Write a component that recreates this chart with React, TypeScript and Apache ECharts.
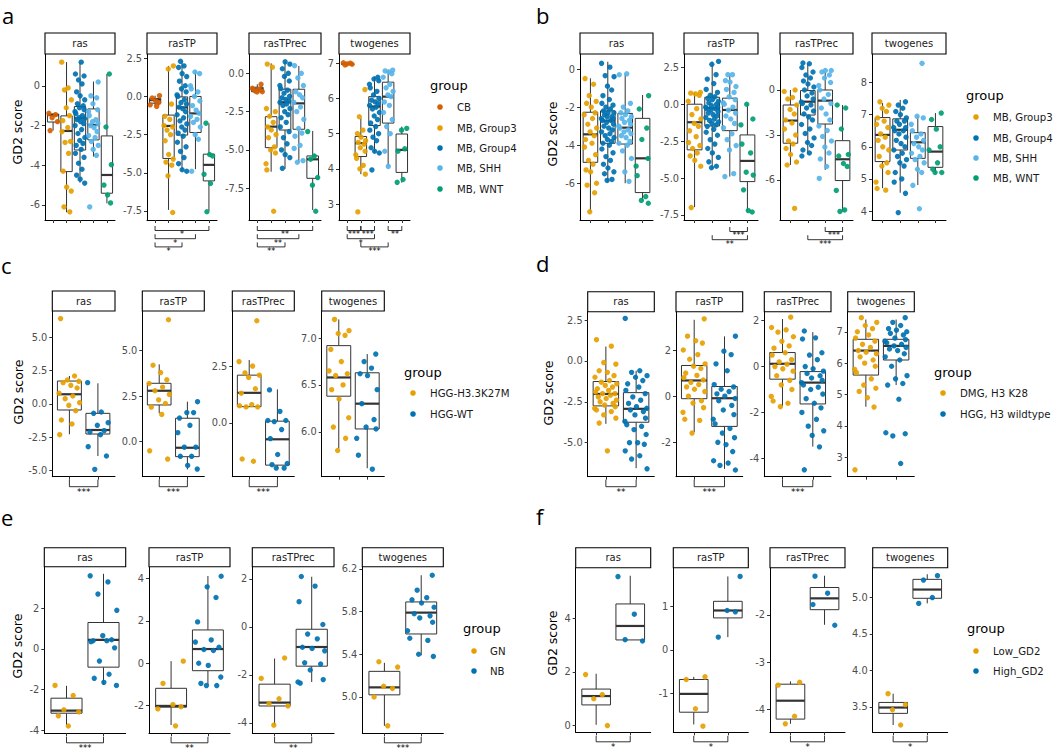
import React, { useEffect, useRef } from "react";
import * as echarts from "echarts";

const FONT = "DejaVu Sans, sans-serif";
const FACET_NAMES = ["ras", "rasTP", "rasTPrec", "twogenes"];

// ---------- panel a ----------
const aGroups = ["CB", "MB, Group3", "MB, Group4", "MB, SHH", "MB, WNT"];
const aColors = ["#D55E00", "#E69F00", "#0072B2", "#56B4E9", "#009E73"];
const aRasPts = [
  [-1.38, -1.45, -1.6, -1.8, -2.25],
  [1.2, -0.1, -0.2, -0.7, -1.1, -1.5, -1.75, -2.1, -2.3, -2.8, -2.85, -3.4, -4.3, -5.1, -5.3, -6.1, -6.35],
  [1.2, 0.6, 0.5, 0.3, 0.1, -0.3, -0.5, -0.7, -0.9, -1.0, -1.1, -1.2, -1.3, -1.4, -1.5, -1.6, -1.65, -1.7, -1.8, -1.9, -2.0, -2.2, -2.4, -2.6, -2.75, -2.9, -3.0, -3.2, -3.4, -3.6, -3.9, -4.2, -4.5, -4.7, -4.9],
  [0.2, -0.5, -0.6, -0.9, -1.2, -1.3, -1.5, -1.7, -1.8, -1.9, -2.0, -2.1, -2.3, -2.5, -2.6, -2.8, -3.0, -3.2, -3.5, -6.1],
  [0.6, -2.07, -3.97, -5.0, -5.5, -5.9],
];
const aRasBox = [[-2.25, -1.82, -1.47, -1.42, -1.38], [-6.37, -4.32, -2.27, -1.51, 1.2], [-4.88, -3.23, -1.63, -1.04, 1.2], [-3.56, -2.72, -1.97, -1.16, 0.22], [-5.92, -5.41, -4.49, -2.52, 0.6]];
const aRasTicks = ["0", "-2", "-4", "-6"];
const aRasLim = [-6.76, 1.61];

const aRasTPPts = [
  [0.05, -0.1, -0.3, -0.4, -0.55, -0.65],
  [2.0, 1.8, -0.5, -1.3, -1.5, -1.9, -2.0, -2.2, -2.5, -2.9, -3.8, -4.1, -4.3, -4.5, -5.2, -7.6],
  [2.3, 2.0, 1.9, 1.5, 1.3, 1.0, 0.7, 0.5, 0.3, 0.1, 0.0, -0.2, -0.4, -0.5, -0.7, -0.8, -1.0, -1.2, -1.4, -1.6, -1.8, -2.0, -2.2, -2.4, -2.6, -3.0, -3.3, -3.6, -4.0, -4.4, -4.8, -4.9],
  [1.6, 1.5, 0.7, 0.5, 0.3, 0.0, -0.3, -0.6, -0.9, -1.1, -1.3, -1.5, -1.7, -2.0, -2.5, -2.8, -4.9],
  [-1.75, -3.8, -3.9, -5.1, -5.7, -7.55],
];
const aRasTPBox = [[-0.65, -0.44, -0.24, -0.13, 0.05], [-7.43, -4.06, -1.93, -1.22, 2.0], [-4.81, -2.53, -0.72, -0.03, 2.33], [-4.76, -2.36, -1.11, 0.0, 1.68], [-7.49, -5.53, -4.48, -3.78, -1.75]];
const aRasTPTicks = ["2.5", "0.0", "-2.5", "-5.0", "-7.5"];
const aRasTPLim = [-8.09, 2.78];
const aRasTPSig = [[1, 5, 1, "*"], [1, 4, 2, "*"], [1, 3, 3, "*"]];

const aRasTPrecPts = [
  [-0.72, -0.98, -1.05, -1.15, -1.2, -1.22],
  [0.6, 0.4, -2.3, -2.5, -2.8, -3.2, -3.5, -3.7, -4.0, -4.2, -4.8, -5.0, -5.2, -5.9, -6.3, -9.0],
  [0.75, 0.6, 0.3, 0.0, -0.2, -0.5, -0.8, -1.0, -1.1, -1.3, -1.5, -1.6, -1.7, -1.8, -1.9, -2.0, -2.1, -2.3, -2.5, -2.7, -2.9, -3.2, -3.5, -3.8, -4.2, -4.6, -5.0, -5.3, -5.5, -6.2],
  [0.5, 0.0, -0.3, -0.8, -1.2, -1.4, -1.6, -1.9, -2.2, -2.5, -3.0, -3.6, -3.9, -4.1, -4.7, -4.9, -5.7, -5.8],
  [-3.8, -5.4, -5.6, -6.8, -7.3, -9.0],
];
const aRasTPrecBox = [[-1.22, -1.2, -1.04, -0.91, -0.72], [-6.42, -4.85, -3.48, -2.83, 0.65], [-6.24, -3.7, -1.89, -1.04, 0.76], [-5.77, -3.65, -1.96, -1.04, 0.48], [-8.92, -6.85, -5.61, -5.39, -3.76]];
const aRasTPrecTicks = ["0.0", "-2.5", "-5.0", "-7.5"];
const aRasTPrecLim = [-9.57, 1.26];
const aRasTPrecSig = [[1, 5, 1, "**"], [1, 4, 2, "**"], [1, 3, 3, "**"]];

const aTwoPts = [
  [6.95, 6.97, 6.98, 7.0, 7.01],
  [6.25, 5.48, 5.1, 5.0, 4.9, 4.8, 4.75, 4.7, 4.6, 4.5, 4.4, 4.3, 4.1, 4.0, 3.85, 2.78],
  [6.6, 6.55, 6.5, 6.4, 6.3, 6.2, 6.1, 6.0, 5.95, 5.9, 5.85, 5.8, 5.75, 5.7, 5.6, 5.5, 5.4, 5.3, 5.2, 5.1, 5.0, 4.9, 4.8, 4.6, 4.5, 4.45, 3.97],
  [6.8, 6.78, 6.75, 6.7, 6.6, 6.4, 6.3, 6.2, 6.1, 6.05, 5.9, 5.8, 5.6, 5.4, 5.2, 5.0, 4.5, 4.07],
  [5.15, 5.1, 4.57, 4.5, 3.7, 3.62],
];
const aTwoBox = [[6.95, 6.96, 6.98, 6.99, 7.01], [3.85, 4.35, 4.73, 4.92, 5.44], [4.45, 5.23, 5.77, 6.05, 6.62], [4.07, 5.3, 6.05, 6.46, 6.81], [3.61, 3.9, 4.54, 4.99, 5.2]];
const aTwoTicks = ["7", "6", "5", "4", "3"];
const aTwoLim = [2.55, 7.26];
const aTwoSig = [[1, 2, 1, "***"], [2, 3, 1, "***"], [4, 5, 1, "**"], [1, 3, 2, "*"], [2, 4, 3, "***"]];

// ---------- panel b ----------
const bGroups = ["MB, Group3", "MB, Group4", "MB, SHH", "MB, WNT"];
const bColors = ["#E69F00", "#0072B2", "#56B4E9", "#009E73"];
const bRasPts = [
  [-0.5, -0.8, -1.4, -1.7, -1.8, -2.0, -2.3, -2.4, -2.6, -2.9, -3.1, -3.3, -3.5, -3.7, -3.9, -4.1, -4.5, -4.8, -5.0, -5.3, -5.4, -6.0, -6.1, -6.5, -7.5],
  [0.3, 0.1, -0.35, -0.4, -0.9, -1.1, -1.4, -1.6, -1.8, -1.9, -2.0, -2.1, -2.2, -2.3, -2.3, -2.4, -2.5, -2.5, -2.6, -2.6, -2.7, -2.7, -2.8, -2.9, -3.0, -3.1, -3.2, -3.3, -3.4, -3.5, -3.6, -3.7, -3.8, -3.9, -4.0, -4.2, -4.4, -4.6, -4.8, -5.0, -5.2, -5.4, -5.5, -5.8, -5.85],
  [-0.25, -0.3, -1.8, -2.0, -2.2, -2.3, -2.4, -2.5, -2.6, -2.7, -2.8, -2.9, -3.0, -3.1, -3.2, -3.3, -3.4, -3.5, -3.6, -3.8, -3.9, -4.0, -4.3, -4.7, -5.4, -5.9],
  [-1.4, -2.1, -3.1, -3.7, -4.7, -5.1, -5.6, -6.7, -6.9, -7.05],
];
const bRasBox = [[-7.49, -4.9, -3.43, -2.27, -0.49], [-5.92, -3.9, -2.71, -2.2, 0.38], [-6.0, -3.94, -3.08, -2.33, -0.23], [-6.88, -6.49, -4.69, -2.59, -1.36]];
const bRasTicks = ["0", "-2", "-4", "-6"];
const bRasLim = [-7.93, 0.79];

const bRasTPPts = [
  [0.8, 0.75, 0.7, 0.6, 0.2, -0.3, -0.7, -1.0, -1.3, -1.5, -1.8, -2.2, -2.6, -2.8, -3.0, -3.3, -3.5, -3.8, -4.2, -7.0],
  [2.9, 2.7, 2.0, 1.7, 1.4, 1.0, 0.8, 0.6, 0.5, 0.4, 0.3, 0.2, 0.1, 0.0, -0.1, -0.2, -0.2, -0.3, -0.3, -0.4, -0.5, -0.6, -0.7, -0.8, -0.9, -1.0, -1.1, -1.2, -1.3, -1.4, -1.5, -1.7, -1.9, -2.1, -2.4, -2.7, -3.0, -3.3, -3.6, -3.9, -4.2, -4.3],
  [2.0, 2.0, 1.6, 1.5, 1.2, 1.0, 0.8, 0.5, 0.3, 0.1, 0.0, -0.2, -0.4, -0.6, -0.8, -1.0, -1.3, -1.6, -2.0, -2.4, -2.8, -3.1, -4.7, -4.9],
  [0.0, -1.0, -1.4, -2.7, -3.3, -4.6, -4.8, -5.8, -7.2, -7.3],
];
const bRasTPBox = [[-6.97, -3.09, -1.22, 0.0, 0.8], [-4.3, -1.47, -0.27, 0.47, 2.88], [-4.9, -1.79, -0.39, 0.41, 1.98], [-7.27, -5.24, -3.84, -2.08, 0.0]];
const bRasTPTicks = ["2.5", "0.0", "-2.5", "-5.0", "-7.5"];
const bRasTPLim = [-7.84, 3.4];
const bRasTPSig = [[3, 4, 1, "***"], [2, 4, 2, "**"]];

const bRasTPrecPts = [
  [0.0, -0.1, -0.5, -0.6, -1.0, -1.3, -1.6, -2.0, -2.2, -2.6, -3.0, -3.4, -3.6, -3.9, -4.3, -4.8, -5.0, -7.9],
  [1.8, 1.75, 1.5, 1.2, 1.0, 0.8, 0.6, 0.4, 0.2, 0.0, -0.2, -0.4, -0.6, -0.8, -0.9, -1.0, -1.2, -1.4, -1.6, -1.8, -2.0, -2.3, -2.6, -2.9, -3.2, -3.5, -3.7, -4.0, -4.2, -4.4],
  [1.3, 1.3, 1.2, 1.0, 0.8, 0.5, 0.3, 0.0, -0.3, -0.6, -0.9, -1.2, -1.6, -2.0, -2.4, -2.7, -3.1, -3.4, -3.8, -4.2, -4.6, -5.1, -5.9],
  [-1.0, -1.2, -2.6, -4.3, -4.4, -4.9, -5.1, -6.7, -8.0, -8.1],
];
const bRasTPrecBox = [[-5.0, -3.55, -2.04, -1.0, 0.0], [-4.27, -1.67, -0.78, -0.04, 1.78], [-5.33, -2.27, -0.71, 0.0, 1.22], [-8.11, -6.04, -4.62, -3.38, -1.0]];
const bRasTPrecTicks = ["0", "-3", "-6"];
const bRasTPrecLim = [-8.67, 2.4];
const bRasTPrecSig = [[3, 4, 1, "***"], [2, 4, 2, "***"]];

const bTwoPts = [
  [7.4, 7.3, 7.2, 7.1, 6.9, 6.8, 6.7, 6.6, 6.4, 6.3, 6.2, 6.0, 5.9, 5.7, 5.5, 5.4, 5.2, 4.9, 4.7, 4.65],
  [7.4, 7.3, 7.2, 7.1, 7.0, 6.9, 6.8, 6.8, 6.7, 6.6, 6.6, 6.5, 6.5, 6.4, 6.3, 6.2, 6.1, 6.0, 5.9, 5.8, 5.7, 5.6, 5.5, 5.4, 5.2, 5.0, 4.9, 4.55, 3.95],
  [8.6, 6.95, 6.9, 6.7, 6.5, 6.4, 6.3, 6.2, 6.1, 6.0, 5.9, 5.8, 5.7, 5.6, 5.5, 5.3, 5.2, 4.8, 4.07],
  [7.05, 6.85, 6.55, 6.0, 5.9, 5.5, 5.3, 5.2, 5.2],
];
const bTwoBox = [[4.71, 5.54, 6.37, 6.91, 7.36], [4.57, 5.9, 6.53, 6.87, 7.46], [4.81, 5.64, 6.14, 6.44, 6.94], [5.19, 5.36, 5.85, 6.63, 7.05]];
const bTwoTicks = ["8", "7", "6", "5", "4"];
const bTwoLim = [3.72, 8.89];

// ---------- panel c ----------
const cGroups = ["HGG-H3.3K27M", "HGG-WT"];
const cColors = ["#E69F00", "#0072B2"];
const cRasPts = [
  [6.4, 2.1, 1.8, 1.7, 1.6, 1.4, 1.2, 0.8, 0.6, 0.4, 0.1, -0.1, -0.5, -1.2, -1.5, -2.3],
  [1.6, -0.6, -0.7, -1.4, -1.6, -2.0, -2.1, -2.3, -3.2, -3.9, -4.9],
];
const cRasBox = [[-2.27, -0.45, 0.73, 1.72, 2.1], [-3.9, -2.25, -1.95, -0.7, 1.55]];
const cRasTicks = ["5.0", "2.5", "0.0", "-2.5", "-5.0"];
const cRasLim = [-5.45, 6.97];
const cRasSig = [[1, 2, 1, "***"]];

const cRasTPPts = [
  [6.7, 4.2, 3.8, 3.4, 3.2, 3.0, 2.8, 2.6, 2.3, 2.1, 1.9, 1.5, -0.5, -0.95],
  [2.2, 1.6, 1.6, 1.3, 0.9, 0.5, -0.3, -0.3, -0.8, -0.8, -1.3, -1.5],
];
const cRasTPBox = [[1.56, 2.02, 2.8, 3.21, 4.25], [-1.52, -0.82, -0.33, 1.29, 2.2]];
const cRasTPTicks = ["5.0", "2.5", "0.0"];
const cRasTPLim = [-1.92, 7.18];
const cRasTPSig = [[1, 2, 1, "***"]];

const cRasTPrecPts = [
  [4.5, 2.7, 2.5, 2.2, 2.1, 2.0, 1.5, 1.3, 0.8, 0.75, 0.7, 0.7, -1.7, -1.6],
  [1.45, 0.5, 0.1, 0.1, 0.05, -0.3, -0.7, -1.4, -1.8, -1.85, -2.0, -2.0],
];
const cRasTPrecBox = [[0.7, 0.71, 1.32, 2.1, 2.77], [-2.0, -1.87, -0.73, 0.07, 1.47]];
const cRasTPrecTicks = ["2.5", "0.0"];
const cRasTPrecLim = [-2.38, 4.93];
const cRasTPrecSig = [[1, 2, 1, "***"]];

const cTwoPts = [
  [7.2, 7.08, 7.05, 7.03, 6.88, 6.75, 6.65, 6.62, 6.6, 6.5, 6.45, 6.35, 6.15, 6.05, 5.93, 5.8],
  [6.83, 6.75, 6.68, 6.62, 6.6, 6.45, 6.3, 6.13, 6.05, 6.03, 5.93, 5.75, 5.6],
];
const cTwoBox = [[5.82, 6.38, 6.58, 6.92, 7.2], [5.61, 6.03, 6.3, 6.63, 6.83]];
const cTwoTicks = ["7.0", "6.5", "6.0"];
const cTwoLim = [5.52, 7.29];

// ---------- panel d ----------
const dGroups = ["DMG, H3 K28", "HGG, H3 wildtype"];
const dColors = ["#E69F00", "#0072B2"];
const dRasPts = [
  [1.3, 0.9, -0.1, -0.2, -0.6, -0.7, -0.9, -1.0, -1.2, -1.3, -1.4, -1.5, -1.6, -1.7, -1.8, -1.9, -2.0, -2.0, -2.1, -2.2, -2.3, -2.4, -2.5, -2.6, -2.7, -2.8, -2.9, -3.0, -3.1, -3.3, -3.5, -3.8, -5.5],
  [2.6, -0.6, -0.7, -0.9, -1.0, -1.2, -1.4, -1.6, -1.8, -2.0, -2.2, -2.4, -2.6, -2.8, -2.9, -3.0, -3.1, -3.3, -3.5, -3.7, -3.9, -4.0, -4.2, -4.5, -5.0, -5.0, -5.1, -5.5, -5.8, -6.0, -6.6],
];
const dRasBox = [[-3.85, -2.75, -2.02, -1.26, 0.88], [-6.56, -3.75, -2.93, -1.94, -0.6]];
const dRasTicks = ["2.5", "0.0", "-2.5", "-5.0"];
const dRasLim = [-7.08, 3.01];
const dRasSig = [[1, 2, 1, "**"]];

const dRasTPPts = [
  [3.35, 2.6, 2.4, 2.3, 2.0, 1.8, 1.6, 1.4, 1.3, 1.2, 1.0, 0.9, 0.8, 0.7, 0.6, 0.5, 0.4, 0.3, 0.2, 0.0, -0.2, -0.3, -0.5, -0.7, -1.0, -1.05, -1.6],
  [2.6, 1.95, 1.8, 1.4, 1.1, 0.5, 0.4, 0.3, 0.2, 0.1, 0.0, -0.1, -0.2, -0.4, -0.6, -0.8, -1.0, -1.2, -1.4, -1.6, -1.8, -2.0, -2.1, -2.4, -2.8, -2.9, -3.0, -3.2],
];
const dRasTPBox = [[-1.56, -0.11, 0.68, 1.33, 3.31], [-3.15, -1.31, -0.09, 0.42, 2.59]];
const dRasTPTicks = ["2", "0", "-2"];
const dRasTPLim = [-3.49, 3.66];
const dRasTPSig = [[1, 2, 1, "***"]];

const dRasTPrecPts = [
  [2.15, 1.7, 1.6, 1.5, 1.3, 1.1, 0.9, 0.8, 0.6, 0.5, 0.3, 0.2, 0.1, 0.0, -0.1, -0.2, -0.4, -0.6, -0.8, -1.0, -1.3, -1.5, -1.6, -1.75],
  [1.55, 1.25, 1.2, 0.6, 0.5, 0.3, 0.0, -0.1, -0.2, -0.3, -0.4, -0.5, -0.6, -0.7, -0.8, -0.9, -1.0, -1.2, -1.4, -1.6, -1.8, -2.0, -2.3, -2.6, -2.8, -3.0, -3.5, -4.5],
];
const dRasTPrecBox = [[-1.74, -0.55, 0.12, 0.61, 2.07], [-3.49, -1.63, -0.7, -0.22, 1.5]];
const dRasTPrecTicks = ["2", "0", "-2", "-4"];
const dRasTPrecLim = [-4.8, 2.39];
const dRasTPrecSig = [[1, 2, 1, "***"]];

const dTwoPts = [
  [7.45, 7.3, 7.2, 7.1, 7.0, 6.9, 6.8, 6.7, 6.6, 6.5, 6.4, 6.35, 6.3, 6.2, 6.1, 6.0, 5.9, 5.8, 5.7, 5.5, 5.3, 5.2, 5.1, 4.9, 4.6, 2.6],
  [7.45, 7.3, 7.2, 7.1, 7.05, 7.0, 6.95, 6.9, 6.8, 6.75, 6.7, 6.65, 6.6, 6.55, 6.5, 6.45, 6.4, 6.3, 6.2, 6.1, 5.9, 5.6, 5.5, 5.35, 5.3, 4.85, 3.78, 3.75, 3.68, 2.8],
];
const dTwoBox = [[4.61, 5.62, 6.4, 6.76, 7.39], [5.3, 6.1, 6.55, 6.76, 7.39]];
const dTwoTicks = ["7", "6", "5", "4", "3"];
const dTwoLim = [2.38, 7.64];

// ---------- panel e ----------
const eGroups = ["GN", "NB"];
const eColors = ["#E69F00", "#0072B2"];
const eRasPts = [
  [-1.8, -2.3, -3.0, -3.1, -3.3, -3.8],
  [3.6, 3.3, 2.7, 1.9, 0.65, 0.45, 0.4, 0.4, 0.35, 0.05, -0.6, -1.25, -1.45, -1.65, -1.8],
];
const eRasBox = [[-3.75, -3.17, -3.04, -2.43, -1.82], [-1.78, -0.9, 0.44, 1.3, 3.7]];
const eRasTicks = ["2", "0", "-2", "-4"];
const eRasLim = [-4.16, 4.05];
const eRasSig = [[1, 2, 1, "***"]];

const eRasTPPts = [
  [0.1, -0.95, -1.95, -2.05, -2.15, -2.95],
  [4.1, 3.6, 3.1, 1.95, 1.1, 1.0, 0.75, 0.65, 0.6, 0.0, -0.1, -0.65, -0.95, -1.05, -1.05],
];
const eRasTPBox = [[-2.91, -2.07, -2.01, -1.18, 0.1], [-1.02, -0.35, 0.67, 1.57, 4.11]];
const eRasTPTicks = ["4", "2", "0", "-2"];
const eRasTPLim = [-3.3, 4.55];
const eRasTPSig = [[1, 2, 1, "**"]];

const eRasTPrecPts = [
  [-1.3, -2.15, -3.0, -3.2, -3.3, -4.1],
  [2.1, 1.7, 1.05, 0.1, -0.3, -0.5, -0.85, -0.9, -1.0, -1.5, -1.55, -1.8, -2.2, -2.3, -2.35],
];
const eRasTPrecBox = [[-4.1, -3.3, -3.16, -2.39, -1.32], [-2.3, -1.64, -0.84, -0.1, 2.09]];
const eRasTPrecTicks = ["2", "0", "-2", "-4"];
const eRasTPrecLim = [-4.44, 2.51];
const eRasTPrecSig = [[1, 2, 1, "**"]];

const eTwoPts = [
  [5.33, 5.28, 5.1, 5.08, 5.0, 4.73],
  [6.14, 6.0, 5.93, 5.91, 5.88, 5.84, 5.78, 5.76, 5.74, 5.7, 5.62, 5.55, 5.53, 5.4, 5.38],
];
const eTwoBox = [[4.73, 5.02, 5.09, 5.24, 5.32], [5.39, 5.59, 5.79, 5.89, 6.14]];
const eTwoTicks = ["6.2", "5.8", "5.4", "5.0"];
const eTwoLim = [4.66, 6.22];
const eTwoSig = [[1, 2, 1, "***"]];

// ---------- panel f ----------
const fGroups = ["Low_GD2", "High_GD2"];
const fColors = ["#E69F00", "#0072B2"];
const fRasPts = [[1.9, 1.15, 1.0, 0.0], [5.55, 4.15, 3.2, 3.15]];
const fRasBox = [[0.03, 0.77, 1.1, 1.36, 1.93], [3.19, 3.19, 3.71, 4.53, 5.58]];
const fRasTicks = ["4", "2", "0"];
const fRasLim = [-0.25, 5.88];
const fRasSig = [[1, 2, 1, "*"]];

const fRasTPPts = [[-0.62, -0.68, -1.35, -1.75], [1.68, 0.9, 0.87, 0.29]];
const fRasTPBox = [[-1.71, -1.43, -1.01, -0.68, -0.62], [0.29, 0.73, 0.9, 1.11, 1.68]];
const fRasTPTicks = ["1", "0", "-1"];
const fRasTPLim = [-1.89, 1.88];
const fRasTPSig = [[1, 2, 1, "*"]];

const fRasTPrecPts = [[-3.43, -3.49, -4.15, -4.31], [-1.18, -1.54, -1.78, -2.22]];
const fRasTPrecBox = [[-4.31, -4.21, -3.82, -3.47, -3.41], [-2.21, -1.89, -1.65, -1.42, -1.17]];
const fRasTPrecTicks = ["-2", "-3", "-4"];
const fRasTPrecLim = [-4.49, -1.0];
const fRasTPrecSig = [[1, 2, 1, "*"]];

const fTwoPts = [[3.68, 3.53, 3.46, 3.25], [5.3, 5.24, 5.0, 4.92]];
const fTwoBox = [[3.25, 3.41, 3.49, 3.56, 3.68], [4.92, 4.99, 5.11, 5.25, 5.32]];
const fTwoTicks = ["5.0", "4.5", "4.0", "3.5"];
const fTwoLim = [3.15, 5.41];
const fTwoSig = [[1, 2, 1, "*"]];

// fixed horizontal jitter offsets (in category units)
const JITTER = [-0.31, 0.18, -0.07, 0.33, -0.22, 0.05, 0.27, -0.36, 0.12, -0.15, 0.36, -0.02, 0.22, -0.28, 0.09, -0.34, 0.3, -0.11, 0.15, -0.25, 0.01, 0.35, -0.19, 0.24, -0.04, 0.31, -0.37];

const PANELS: any[] = [
  {
    letter: "a", lx: 2, ly: 15, stripTop: 33, stripBot: 54, axisBot: 220, tip: 4.5, sigOff: 10.5, sigFont: 8,
    xs: [[45, 115], [147, 217], [249, 321], [339, 410]], titleX: 17, titleY: 132,
    leg: { tx: 430, ty: 85, dx: 440, lx: 457, ys: [107, 128, 148, 168, 189] },
    groups: aGroups, colors: aColors,
    facets: [
      { pts: aRasPts, box: aRasBox, ticks: aRasTicks, lim: aRasLim, sig: [] },
      { pts: aRasTPPts, box: aRasTPBox, ticks: aRasTPTicks, lim: aRasTPLim, sig: aRasTPSig },
      { pts: aRasTPrecPts, box: aRasTPrecBox, ticks: aRasTPrecTicks, lim: aRasTPrecLim, sig: aRasTPrecSig },
      { pts: aTwoPts, box: aTwoBox, ticks: aTwoTicks, lim: aTwoLim, sig: aTwoSig },
    ],
  },
  {
    letter: "b", lx: 536, ly: 15, stripTop: 33, stripBot: 54, axisBot: 220, tip: 4.5, sigOff: 11.5, sigFont: 8,
    xs: [[580, 653], [684, 758], [780, 853], [872, 946]], titleX: 552, titleY: 134,
    leg: { tx: 966, ty: 95, dx: 976, lx: 993, ys: [117, 138, 158, 178] },
    groups: bGroups, colors: bColors,
    facets: [
      { pts: bRasPts, box: bRasBox, ticks: bRasTicks, lim: bRasLim, sig: [] },
      { pts: bRasTPPts, box: bRasTPBox, ticks: bRasTPTicks, lim: bRasTPLim, sig: bRasTPSig },
      { pts: bRasTPrecPts, box: bRasTPrecBox, ticks: bRasTPrecTicks, lim: bRasTPrecLim, sig: bRasTPrecSig },
      { pts: bTwoPts, box: bTwoBox, ticks: bTwoTicks, lim: bTwoLim, sig: [] },
    ],
  },
  {
    letter: "c", lx: 1, ly: 265, stripTop: 291, stripBot: 311, axisBot: 476.7, tip: 7, sigOff: 10, sigFont: 9,
    xs: [[52.3, 115], [142.3, 204.3], [232.3, 294.3], [321.7, 384.3]], titleX: 18, titleY: 392,
    leg: { tx: 404, ty: 372, dx: 413, lx: 430, ys: [393, 414] },
    groups: cGroups, colors: cColors,
    facets: [
      { pts: cRasPts, box: cRasBox, ticks: cRasTicks, lim: cRasLim, sig: cRasSig },
      { pts: cRasTPPts, box: cRasTPBox, ticks: cRasTPTicks, lim: cRasTPLim, sig: cRasTPSig },
      { pts: cRasTPrecPts, box: cRasTPrecBox, ticks: cRasTPrecTicks, lim: cRasTPrecLim, sig: cRasTPrecSig },
      { pts: cTwoPts, box: cTwoBox, ticks: cTwoTicks, lim: cTwoLim, sig: [] },
    ],
  },
  {
    letter: "d", lx: 536, ly: 263, stripTop: 291.7, stripBot: 311.7, axisBot: 476.7, tip: 7, sigOff: 10, sigFont: 9,
    xs: [[587.7, 654.3], [676, 742.7], [764.3, 831], [847.7, 914.3]], titleX: 548, titleY: 393,
    leg: { tx: 934, ty: 372, dx: 943, lx: 960, ys: [393, 414] },
    groups: dGroups, colors: dColors,
    facets: [
      { pts: dRasPts, box: dRasBox, ticks: dRasTicks, lim: dRasLim, sig: dRasSig },
      { pts: dRasTPPts, box: dRasTPBox, ticks: dRasTPTicks, lim: dRasTPLim, sig: dRasTPSig },
      { pts: dRasTPrecPts, box: dRasTPrecBox, ticks: dRasTPrecTicks, lim: dRasTPrecLim, sig: dRasTPrecSig },
      { pts: dTwoPts, box: dTwoBox, ticks: dTwoTicks, lim: dTwoLim, sig: [] },
    ],
  },
  {
    letter: "e", lx: 1, ly: 517, stripTop: 547.7, stripBot: 566.7, axisBot: 733.3, tip: 6, sigOff: 9.5, sigFont: 8.5,
    xs: [[44.3, 125.7], [149, 230], [252.3, 334], [362.3, 443.3]], titleX: 17, titleY: 646,
    leg: { tx: 463, ty: 628, dx: 474, lx: 490, ys: [651, 671] },
    groups: eGroups, colors: eColors,
    facets: [
      { pts: eRasPts, box: eRasBox, ticks: eRasTicks, lim: eRasLim, sig: eRasSig },
      { pts: eRasTPPts, box: eRasTPBox, ticks: eRasTPTicks, lim: eRasTPLim, sig: eRasTPSig },
      { pts: eRasTPrecPts, box: eRasTPrecBox, ticks: eRasTPrecTicks, lim: eRasTPrecLim, sig: eRasTPrecSig },
      { pts: eTwoPts, box: eTwoBox, ticks: eTwoTicks, lim: eTwoLim, sig: eTwoSig },
    ],
  },
  {
    letter: "f", lx: 536, ly: 516, stripTop: 547.7, stripBot: 567.7, axisBot: 732.3, tip: 6, sigOff: 9.5, sigFont: 8.5,
    xs: [[575.7, 650.7], [673.3, 748.3], [770, 845], [872.7, 947.7]], titleX: 552, titleY: 643,
    leg: { tx: 967, ty: 628, dx: 976, lx: 993, ys: [651, 671] },
    groups: fGroups, colors: fColors,
    facets: [
      { pts: fRasPts, box: fRasBox, ticks: fRasTicks, lim: fRasLim, sig: fRasSig },
      { pts: fRasTPPts, box: fRasTPBox, ticks: fRasTPTicks, lim: fRasTPLim, sig: fRasTPSig },
      { pts: fRasTPrecPts, box: fRasTPrecBox, ticks: fRasTPrecTicks, lim: fRasTPrecLim, sig: fRasTPrecSig },
      { pts: fTwoPts, box: fTwoBox, ticks: fTwoTicks, lim: fTwoLim, sig: fTwoSig },
    ],
  },
];

const BOX_HALF = 0.42;
const BOX_STROKE = "#333333";

function boxRender(params: any, api: any) {
  const x = api.value(0);
  const lo = api.value(1), q1 = api.value(2), med = api.value(3), q3 = api.value(4), hi = api.value(5);
  const c = (xx: number, v: number) => api.coord([xx, v]);
  const pHi = c(x, hi), pQ3 = c(x, q3), pQ1 = c(x, q1), pLo = c(x, lo);
  const pTL = c(x - BOX_HALF, q3), pBR = c(x + BOX_HALF, q1);
  const mL = c(x - BOX_HALF, med), mR = c(x + BOX_HALF, med);
  return {
    type: "group",
    children: [
      { type: "line", shape: { x1: pHi[0], y1: pHi[1], x2: pQ3[0], y2: pQ3[1] }, style: { stroke: BOX_STROKE, lineWidth: 1 } },
      { type: "line", shape: { x1: pQ1[0], y1: pQ1[1], x2: pLo[0], y2: pLo[1] }, style: { stroke: BOX_STROKE, lineWidth: 1 } },
      { type: "rect", shape: { x: pTL[0], y: pTL[1], width: pBR[0] - pTL[0], height: Math.max(pBR[1] - pTL[1], 0.5) }, style: { fill: "#ffffff", stroke: BOX_STROKE, lineWidth: 1 } },
      { type: "line", shape: { x1: mL[0], y1: mL[1], x2: mR[0], y2: mR[1] }, style: { stroke: BOX_STROKE, lineWidth: 2.2 } },
    ],
  };
}

function makeSigRender(sig: any[], tip: number, off: number, fs: number) {
  return (params: any, api: any) => {
    const s = sig[params.dataIndex];
    const p1 = api.coord([s[0], api.value(1)]);
    const p2 = api.coord([s[1], api.value(1)]);
    const ly = p1[1] + off + (s[2] - 1) * 8.2;
    return {
      type: "group",
      children: [
        { type: "polyline", shape: { points: [[p1[0], ly - tip], [p1[0], ly], [p2[0], ly], [p2[0], ly - tip]] }, style: { stroke: "#000", fill: "none", lineWidth: 0.8 } },
        { type: "text", x: (p1[0] + p2[0]) / 2, y: ly + 0.3, style: { text: s[3], align: "center", verticalAlign: "top", fontSize: fs, fill: "#000", fontFamily: FONT } },
      ],
    };
  };
}

function buildOption() {
  const grid: any[] = [], xAxis: any[] = [], yAxis: any[] = [], series: any[] = [], elements: any[] = [];
  let gi = 0;
  PANELS.forEach((p) => {
    const n = p.groups.length;
    const groupPos = p.groups.map((_: any, i: number) => i + 1);
    p.facets.forEach((f: any, fi: number) => {
      const [x0, x1] = p.xs[fi];
      grid.push({ left: x0, top: p.stripBot, width: x1 - x0, height: p.axisBot - p.stripBot, containLabel: false });
      xAxis.push({
        type: "value", gridIndex: gi, min: 0.4, max: n + 0.6,
        axisLine: { show: true, onZero: false, lineStyle: { color: "#000", width: 1 } },
        axisTick: { show: true, customValues: groupPos, length: 3, lineStyle: { color: "#333", width: 1 } },
        axisLabel: { show: false }, splitLine: { show: false },
      });
      const tickVals = f.ticks.map((t: string) => parseFloat(t));
      const ticks = f.ticks;
      yAxis.push({
        type: "value", gridIndex: gi, min: f.lim[0], max: f.lim[1],
        axisLine: { show: true, onZero: false, lineStyle: { color: "#000", width: 1 } },
        axisTick: { show: true, customValues: tickVals, length: 3, lineStyle: { color: "#333", width: 1 } },
        axisLabel: {
          customValues: tickVals, margin: 5, fontSize: 9.8, color: "#4D4D4D", fontFamily: FONT,
          formatter: (v: number) => {
            for (let i = 0; i < tickVals.length; i++) if (Math.abs(tickVals[i] - v) < 1e-6) return ticks[i];
            return "";
          },
        },
        splitLine: { show: false },
      });
      series.push({
        type: "custom", xAxisIndex: gi, yAxisIndex: gi, silent: true, z: 2,
        data: f.box.map((b: number[], i: number) => [i + 1, ...b]),
        renderItem: boxRender,
      });
      f.pts.forEach((arr: number[], g: number) => {
        series.push({
          type: "scatter", xAxisIndex: gi, yAxisIndex: gi, silent: true, z: 3,
          symbolSize: 5.4, itemStyle: { color: p.colors[g], opacity: 0.92 },
          data: arr.map((v: number, k: number) => [g + 1 + JITTER[(k + g * 7 + fi * 3) % JITTER.length], v]),
        });
      });
      if (f.sig.length) {
        series.push({
          type: "custom", xAxisIndex: gi, yAxisIndex: gi, silent: true, clip: false, z: 4,
          data: f.sig.map((s: any[]) => [s[0], f.lim[0]]),
          renderItem: makeSigRender(f.sig, p.tip, p.sigOff, p.sigFont),
        });
      }
      elements.push({ type: "rect", shape: { x: x0, y: p.stripTop, width: x1 - x0, height: p.stripBot - p.stripTop }, style: { fill: "#fff", stroke: "#000", lineWidth: 1.1 }, z: 10 });
      elements.push({ type: "text", x: (x0 + x1) / 2, y: (p.stripTop + p.stripBot) / 2, style: { text: FACET_NAMES[fi], align: "center", verticalAlign: "middle", fontSize: 10, fill: "#1A1A1A", fontFamily: FONT }, z: 11 });
      gi++;
    });
    elements.push({ type: "text", x: p.lx, y: p.ly, style: { text: p.letter, align: "left", verticalAlign: "middle", fontSize: 22, fill: "#000", fontFamily: "Open Sans, sans-serif" } });
    elements.push({ type: "text", x: p.titleX, y: p.titleY, rotation: Math.PI / 2, style: { text: "GD2 score", align: "center", verticalAlign: "middle", fontSize: 12.5, fill: "#000", fontFamily: FONT } });
    elements.push({ type: "text", x: p.leg.tx, y: p.leg.ty, style: { text: "group", align: "left", verticalAlign: "middle", fontSize: 13, fill: "#000", fontFamily: FONT } });
    p.groups.forEach((gname: string, g: number) => {
      elements.push({ type: "circle", shape: { cx: p.leg.dx, cy: p.leg.ys[g], r: 2.8 }, style: { fill: p.colors[g] } });
      elements.push({ type: "text", x: p.leg.lx, y: p.leg.ys[g], style: { text: gname, align: "left", verticalAlign: "middle", fontSize: 10.2, fill: "#1A1A1A", fontFamily: FONT } });
    });
  });
  return { animation: false, backgroundColor: "#ffffff", grid, xAxis, yAxis, series, graphic: { elements } };
}

export default function App() {
  const ref = useRef<HTMLDivElement>(null);
  useEffect(() => {
    if (!ref.current) return;
    const chart = echarts.init(ref.current, undefined, { renderer: "svg" });
    chart.setOption(buildOption() as any);
    return () => chart.dispose();
  }, []);
  return <div ref={ref} style={{ position: "absolute", left: 0, top: 0, width: 1059, height: 753, background: "#fff" }} />;
}
